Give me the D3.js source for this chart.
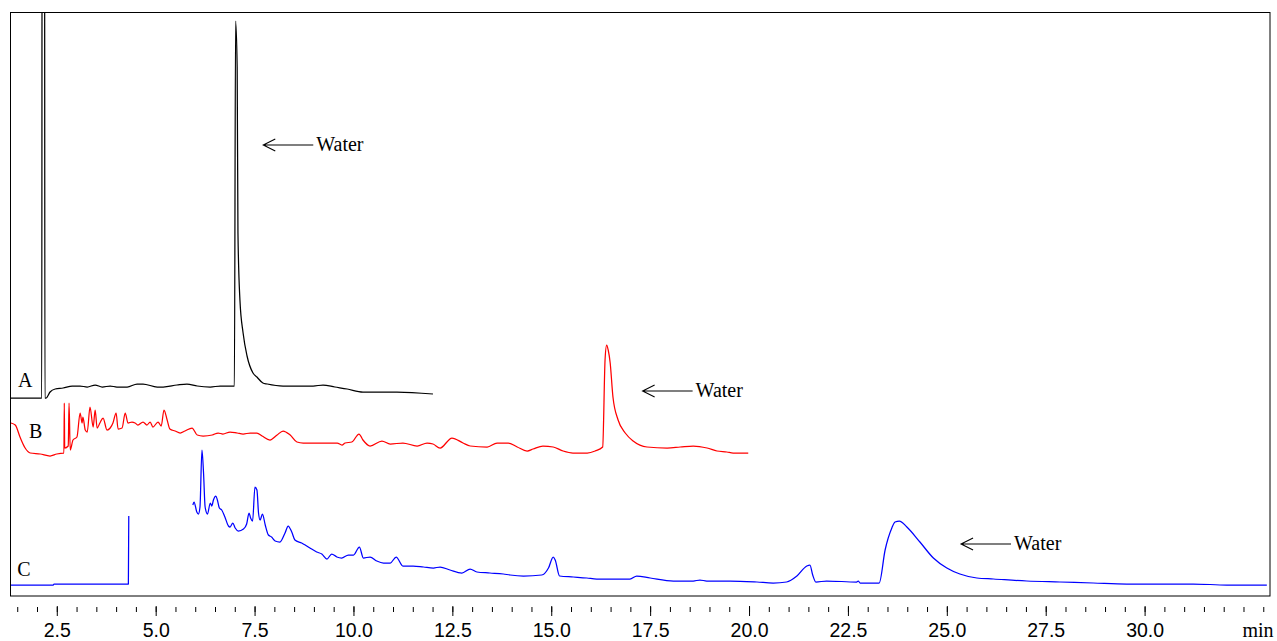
<!DOCTYPE html>
<html>
<head>
<meta charset="utf-8">
<script src="https://cdn.jsdelivr.net/npm/d3@7"></script>
<style>
  body { margin: 0; background: #fff; }
  svg { display: block; font-family: "Liberation Serif", "Times New Roman", serif; }
  .tick text { font-size: 19.5px; fill: #000; }
  .tick line { stroke: #000; }
</style>
</head>
<body>
<div class="chromatogram-container"></div>
<script>
// retention time (min) / detector signal
const traceA = [
  [1.34,198],[2.12,198],[2.13,800],[2.19,800],[2.20,198],[2.23,198],[2.33,204],[2.46,207],
  [2.66,208],[2.89,210],[3.09,210],[3.27,209],[3.47,211],[3.65,209],[3.85,210],[4.02,209],
  [4.28,209],[4.53,212],[4.68,212],[5.04,209],[5.19,209],[5.54,211],[5.79,212],[6.05,210],
  [6.38,209],[6.63,210],[6.96,210],[6.99,210],[7.02,575],[7.06,529],[7.08,363],[7.13,296],
  [7.21,263],[7.31,240],[7.46,223],[7.56,219],[7.71,213],[7.82,212],[8.22,210],[8.98,210],
  [9.23,211],[9.53,209],[9.84,207],[10.24,204],[11.10,204],[12.01,202]
];
const traceB = [
  [1.34,173],[1.45,171],[1.57,159],[1.70,148],[1.83,143],[2.08,142],[2.33,140],[2.50,142],
  [2.67,143],[2.68,143],[2.69,193],[2.70,148],[2.79,150],[2.81,193],[2.84,146],[2.91,156],
  [3.01,159],[3.09,183],[3.14,173],[3.16,179],[3.22,166],[3.27,164],[3.34,189],[3.42,169],
  [3.47,186],[3.52,168],[3.59,173],[3.67,178],[3.77,166],[3.85,168],[3.92,173],[4.00,183],
  [4.05,167],[4.15,168],[4.23,183],[4.30,173],[4.40,174],[4.48,173],[4.55,171],[4.68,174],
  [4.78,171],[4.86,174],[4.93,169],[5.06,174],[5.14,170],[5.21,186],[5.29,176],[5.36,167],
  [5.49,165],[5.62,163],[5.74,165],[5.92,168],[6.05,161],[6.20,160],[6.43,161],[6.58,163],
  [6.70,162],[6.88,164],[7.06,163],[7.21,162],[7.39,163],[7.56,163],[7.69,160],[7.89,156],
  [8.07,161],[8.22,165],[8.40,161],[8.57,154],[8.73,153],[8.98,153],[9.33,153],[9.59,153],
  [9.71,151],[9.79,153],[9.96,154],[10.14,162],[10.24,156],[10.42,150],[10.72,155],[10.93,152],
  [11.25,153],[11.61,150],[11.86,153],[12.01,152],[12.19,148],[12.49,158],[12.77,153],[12.95,150],
  [13.38,149],[13.63,153],[13.91,153],[14.14,149],[14.39,145],[14.54,147],[14.79,150],[15.05,149],
  [15.30,145],[15.55,143],[15.91,143],[16.11,145],[16.30,149],[16.36,236],[16.40,251],[16.44,246],
  [16.49,233],[16.56,199],[16.69,176],[16.87,163],[17.07,155],[17.42,149],[17.93,148],[18.26,149],
  [18.59,150],[18.94,148],[19.19,145],[19.44,144],[19.60,143],[19.98,143]
];
// null = no data recorded between the two runs of trace C
const traceC = [
  [1.34,11],[2.41,11],[2.43,12],[4.31,12],[4.32,80],[4.33,null],
  [5.94,91],[5.97,94],[6.04,84],[6.08,82],[6.12,89],[6.17,146],[6.21,123],[6.25,89],
  [6.31,82],[6.38,93],[6.42,90],[6.46,96],[6.52,100],[6.56,96],[6.61,88],[6.67,86],
  [6.75,79],[6.84,70],[6.88,69],[6.95,73],[7.01,68],[7.09,65],[7.22,67],[7.30,72],
  [7.36,83],[7.40,78],[7.45,75],[7.51,109],[7.56,106],[7.60,83],[7.64,76],[7.70,82],
  [7.77,71],[7.85,61],[7.93,59],[8.02,55],[8.14,54],[8.27,63],[8.35,70],[8.44,64],
  [8.52,56],[8.69,53],[8.78,51],[8.90,48],[9.07,44],[9.20,42],[9.33,37],[9.45,42],
  [9.58,39],[9.70,38],[9.87,41],[10.00,41],[10.15,49],[10.25,38],[10.42,39],[10.59,35],
  [10.76,33],[10.93,33],[11.08,39],[11.25,30],[11.51,30],[11.77,29],[12.02,28],[12.19,29],
  [12.44,26],[12.74,23],[12.95,27],[13.12,24],[13.45,23],[13.79,22],[13.96,21],[14.30,20],
  [14.76,21],[14.93,28],[15.05,39],[15.10,36],[15.21,20],[15.56,19],[15.90,18],[16.15,17],
  [16.99,17],[17.16,20],[17.50,18],[18.09,15],[18.59,15],[18.76,16],[18.93,15],[19.18,15],
  [19.52,15],[20.20,14],[20.61,13],[20.95,14],[21.21,20],[21.46,30],[21.54,31],[21.61,21],
  [21.69,14],[21.96,15],[22.72,14],[22.76,15],[22.81,13],[23.29,13],[23.44,46],[23.61,68],
  [23.69,74],[23.80,75],[23.99,69],[24.32,54],[24.66,38],[25.00,28],[25.33,22],[25.76,18],
  [26.18,17],[27.02,15],[27.86,14],[28.70,13],[29.55,12],[31.23,12],[32.08,11],[33.09,11]
];

const seriesNames = ['A', 'B', 'C'];
const seriesColors = ['#000000', '#ff0000', '#0000ff'];
const seriesLabelPos = [[1.52,209],[1.80,158],[1.50,20]];
// arrow tip of each "Water" note
const waterArrows = [[7.72,451],[17.31,205],[25.36,52]];
const majorTicks = [2.5,5.0,7.5,10.0,12.5,15.0,17.5,20.0,22.5,25.0,27.5,30.0];
const minorTickStep = 0.5;
const xUnit = 'min';

function draw(){
    const svg_width = 1277;
    const svg_height = 641;
    const frame = {left:10.5, top:12.5, right:1270, bottom:596};

    const svg = d3.select('.chromatogram-container').append('svg')
        .attr('width', svg_width).attr('height', svg_height);

    const xScale = d3.scaleLinear().domain([1.33, 33.17]).range([frame.left, frame.right]);
    const yScale = d3.scaleLinear().domain([0, 583]).range([frame.bottom, frame.top + 0.5]);

    svg.append('clipPath').attr('id', 'plot-clip')
        .append('rect')
        .attr('x', frame.left).attr('y', frame.top)
        .attr('width', frame.right - frame.left).attr('height', frame.bottom - frame.top);

    // traces (smoothed between read points)
    const lineGen = d3.line()
        .defined(d => d[1] !== null)
        .curve(d3.curveMonotoneX)
        .x(d => xScale(d[0])).y(d => yScale(d[1]));
    const series = [traceA, traceB, traceC].map((values, i) => ({
        name: seriesNames[i], color: seriesColors[i], values: values, label: seriesLabelPos[i]
    }));
    const plot = svg.append('g').attr('clip-path', 'url(#plot-clip)');
    plot.selectAll('.trace').data(series).enter()
        .append('path')
        .attr('class', d => `trace trace-${d.name}`)
        .attr('d', d => lineGen(d.values))
        .style('fill', 'none')
        .style('stroke', d => d.color)
        .style('stroke-width', 1.25)
        .style('stroke-linejoin', 'round');

    // trace letters
    svg.selectAll('.trace-label').data(series).enter()
        .append('text')
        .attr('class', 'trace-label')
        .attr('x', d => xScale(d.label[0])).attr('y', d => yScale(d.label[1]))
        .text(d => d.name)
        .style('font-size', '20px');

    // water notes: open arrow + text
    const notes = svg.selectAll('.water-note').data(waterArrows).enter()
        .append('g').attr('class', 'water-note')
        .attr('transform', d => `translate(${xScale(d[0])},${yScale(d[1])})`);
    notes.append('path')
        .attr('d', 'M50,0H0M12,-6L0,0L12,6')
        .style('fill', 'none').style('stroke', '#000').style('stroke-width', 1.1);
    notes.append('text')
        .attr('x', 53).attr('y', 6)
        .text('Water')
        .style('font-size', '20px');

    // frame
    svg.append('rect')
        .attr('x', frame.left).attr('y', frame.top)
        .attr('width', frame.right - frame.left).attr('height', frame.bottom - frame.top)
        .style('fill', 'none').style('stroke', '#000').style('stroke-width', 1);

    // x axis, minor then major ticks, no domain line
    const minorTicks = d3.range(3, 67).map(i => i * minorTickStep);
    const axisY = frame.bottom + 10;
    svg.append('g').attr('class', 'x axis minor')
        .attr('transform', `translate(0,${axisY + 1})`)
        .call(d3.axisBottom(xScale).tickValues(minorTicks).tickSize(5).tickFormat(''))
        .call(g => g.select('.domain').remove());
    svg.append('g').attr('class', 'x axis major')
        .attr('transform', `translate(0,${axisY})`)
        .call(d3.axisBottom(xScale).tickValues(majorTicks).tickSize(10).tickPadding(7)
              .tickFormat(d3.format('.1f')))
        .call(g => g.select('.domain').remove());
    svg.append('text')
        .attr('x', xScale(32.5) - 1).attr('y', 636.5)
        .text(xUnit)
        .style('font-size', '20px');
}

draw();
</script>
</body>
</html>
